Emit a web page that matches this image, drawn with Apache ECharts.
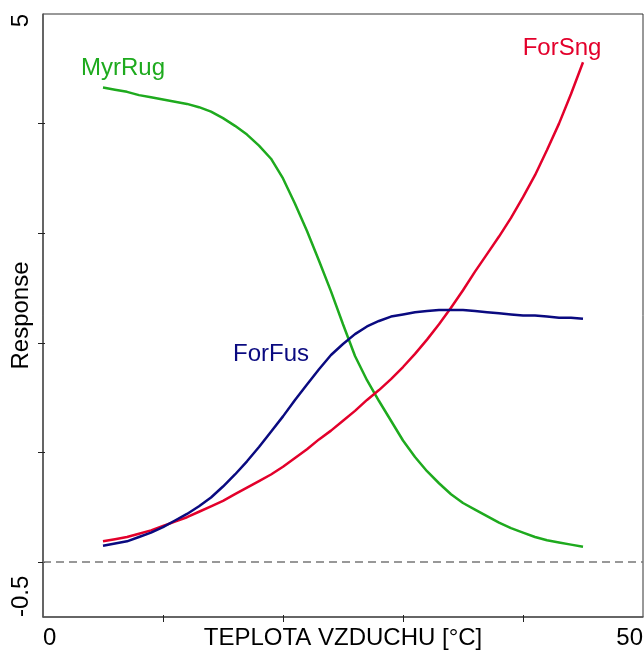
<!DOCTYPE html>
<html>
<head>
<meta charset="utf-8">
<script src="https://cdn.jsdelivr.net/npm/echarts@6/dist/echarts.min.js"></script>
<style>
html,body{margin:0;padding:0;background:#fff;}
#main{width:644px;height:651px;}
</style>
</head>
<body>
<div id="main"></div>
<script>
// Temperature (°C)
var temps = [5,6,7,8,9,10,11,12,13,14,15,16,17,18,19,20,21,22,23,24,25,26,27,28,29,30,31,32,33,34,35,36,37,38,39,40,41,42,43,44,45];
// Responses
var myrRug = [4.33,4.31,4.29,4.26,4.24,4.22,4.20,4.18,4.15,4.11,4.05,3.98,3.90,3.80,3.68,3.50,3.27,3.02,2.75,2.47,2.17,1.88,1.66,1.47,1.29,1.11,0.96,0.83,0.72,0.62,0.54,0.48,0.42,0.36,0.31,0.27,0.23,0.20,0.18,0.16,0.14];
var forSng = [0.19,0.21,0.23,0.26,0.29,0.33,0.37,0.41,0.46,0.51,0.56,0.62,0.68,0.74,0.80,0.87,0.95,1.03,1.12,1.20,1.29,1.38,1.48,1.57,1.67,1.78,1.90,2.03,2.17,2.32,2.48,2.65,2.81,2.97,3.14,3.33,3.53,3.76,4.00,4.27,4.56];
var forFus = [0.15,0.17,0.19,0.23,0.27,0.32,0.38,0.44,0.51,0.59,0.69,0.80,0.92,1.05,1.19,1.33,1.48,1.62,1.76,1.89,1.99,2.08,2.15,2.20,2.24,2.26,2.28,2.29,2.30,2.30,2.30,2.29,2.28,2.27,2.26,2.25,2.25,2.24,2.23,2.23,2.22];
var xLabelValues = [0, 50];
var xTickValues = [10, 20, 30, 40];
var yLabelValues = [-0.5, 5];
var yTickValues = [0, 1, 2, 3, 4];
var seriesNames = ['MyrRug', 'ForSng', 'ForFus'];

function pairs(vals){ return temps.map(function(t,i){ return [t, vals[i]]; }); }

var FONT = 'Liberation Sans, Arial, sans-serif';
var chart = echarts.init(document.getElementById('main'), null, {renderer:'canvas'});

function nameLabel(color, coord, offset){
  return {
    symbol: 'circle', symbolSize: 0, silent: true,
    data: [{coord: coord, value: 0}],
    label: {show: true, position: 'inside', offset: offset, formatter: '{a}',
      color: color, fontSize: 24, fontFamily: FONT}
  };
}

var option = {
  animation: false,
  backgroundColor: '#fff',
  grid: {left: 43, right: 1, top: 14, bottom: 34, show: true, borderColor: '#333', borderWidth: 1,
    containLabel: false, outerBoundsMode: 'none'},
  xAxis: [{
    type: 'value', min: 0, max: 50,
    name: 'TEPLOTA VZDUCHU [°C]', nameLocation: 'middle', nameGap: 9, nameMoveOverlap: false,
    nameTextStyle: {color: '#000', fontSize: 24, fontFamily: FONT},
    axisLine: {show: true, onZero: false, lineStyle: {color: '#555', width: 1.5}},
    axisTick: {show: true, length: 5, lineStyle: {color: '#222', width: 1}, customValues: xTickValues},
    axisLabel: {color: '#000', fontSize: 24, fontFamily: FONT, margin: 9, customValues: xLabelValues,
      alignMinLabel: 'left', alignMaxLabel: 'right'},
    splitLine: {show: false}
  },{
    type: 'value', min: 0, max: 50, position: 'bottom',
    axisLine: {show: false, onZero: false},
    axisTick: {show: true, inside: true, length: 2, lineStyle: {color: '#222', width: 1}, customValues: xTickValues},
    axisLabel: {show: false}, splitLine: {show: false}
  }],
  yAxis: [{
    type: 'value', min: -0.5, max: 5,
    name: 'Response', nameLocation: 'middle', nameGap: 10, nameRotate: 90, nameMoveOverlap: false,
    nameTextStyle: {color: '#000', fontSize: 24, fontFamily: FONT},
    axisLine: {show: true, onZero: false, lineStyle: {color: '#555', width: 1.5}},
    axisTick: {show: true, length: 5, lineStyle: {color: '#222', width: 1}, customValues: yTickValues},
    axisLabel: {color: '#000', fontSize: 24, fontFamily: FONT, margin: 10, rotate: 90, customValues: yLabelValues,
      alignMinLabel: 'left', alignMaxLabel: 'right'},
    splitLine: {show: false}
  },{
    type: 'value', min: -0.5, max: 5, position: 'left',
    axisLine: {show: false, onZero: false},
    axisTick: {show: true, inside: true, length: 2, lineStyle: {color: '#222', width: 1}, customValues: yTickValues},
    axisLabel: {show: false}, splitLine: {show: false}
  }],
  series: [
    {
      name: seriesNames[0], type: 'line', data: pairs(myrRug), showSymbol: false, smooth: false,
      lineStyle: {color: '#1EAA1E', width: 2.5}, itemStyle: {color: '#1EAA1E'},
      markLine: {
        silent: true, symbol: ['none','none'], label: {show: false},
        lineStyle: {color: '#777', type: [8,5], width: 1.5},
        data: [{yAxis: 0}]
      },
      markPoint: nameLabel('#1EAA1E', [temps[0], myrRug[0]], [20, -19])
    },
    {
      name: seriesNames[1], type: 'line', data: pairs(forSng), showSymbol: false, smooth: false,
      lineStyle: {color: '#E3002B', width: 2.5}, itemStyle: {color: '#E3002B'},
      markPoint: nameLabel('#E3002B', [temps[temps.length-1], forSng[forSng.length-1]], [-21, -14])
    },
    {
      name: seriesNames[2], type: 'line', data: pairs(forFus), showSymbol: false, smooth: false,
      lineStyle: {color: '#0A0A80', width: 2.5}, itemStyle: {color: '#0A0A80'},
      markPoint: nameLabel('#0A0A80', [temps[15], forFus[15]], [-12, -62])
    }
  ]
};
chart.setOption(option);
</script>
</body>
</html>
